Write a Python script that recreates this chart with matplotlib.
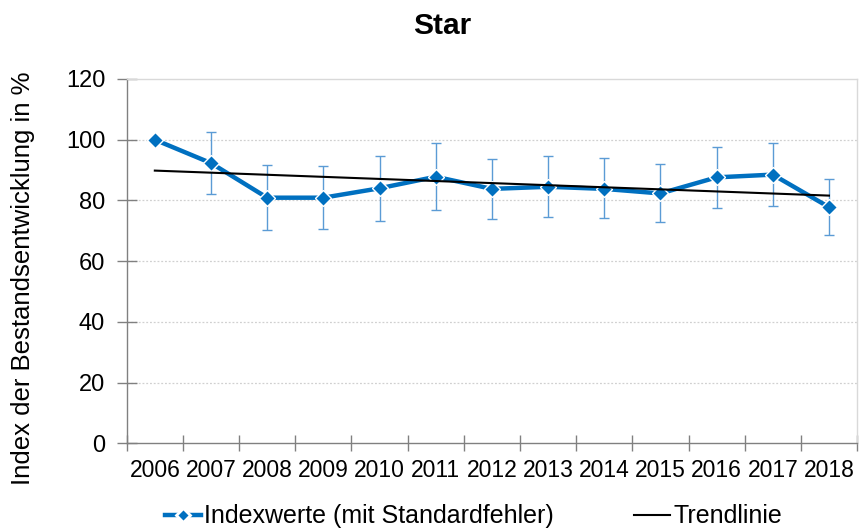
import matplotlib
matplotlib.use("Agg")
import matplotlib.pyplot as plt
import numpy as np
from matplotlib.lines import Line2D

plt.rcParams['font.family'] = ['Liberation Sans', 'DejaVu Sans']

years = ['2006', '2007', '2008', '2009', '2010', '2011', '2012',
         '2013', '2014', '2015', '2016', '2017', '2018']
index_values = [100.0, 92.3, 80.9, 80.9, 84.0, 87.8, 83.8, 84.5, 83.8, 82.3, 87.6, 88.5, 77.8]
se_upper = [np.nan, 102.6, 91.6, 91.2, 94.7, 98.8, 93.7, 94.6, 93.9, 92.0, 97.6, 98.8, 87.2]
se_lower = [np.nan, 82.0, 70.1, 70.5, 73.1, 76.9, 73.8, 74.5, 74.2, 73.0, 77.4, 78.2, 68.7]
y_ticks = [0, 20, 40, 60, 80, 100, 120]

title = 'Star'
y_label = 'Index der Bestandsentwicklung in %'
legend_labels = ['Indexwerte (mit Standardfehler)', 'Trendlinie']

x = np.arange(len(years))
vals = np.array(index_values)
up = np.array(se_upper)
lo = np.array(se_lower)

fig = plt.figure(figsize=(8.61, 5.28), dpi=100)
ax = fig.add_axes([0.1472, 0.1604, 0.9954 - 0.1472, 0.8504 - 0.1604])

blue = '#0070C0'
err_blue = '#5B9BD5'

# error bars
yerr = np.vstack([vals - lo, up - vals])
ax.errorbar(x, vals, yerr=yerr, fmt='none', ecolor=err_blue, elinewidth=1.0,
            capsize=3.5, capthick=1.0, zorder=3)

# main line
ax.plot(x, vals, color=blue, lw=3.2, marker='D', markersize=8,
        markerfacecolor=blue, markeredgecolor='white', markeredgewidth=1.0,
        zorder=4, solid_capstyle='round')

# trend line (linear fit)
coef = np.polyfit(x, vals, 1)
ax.plot(x, np.polyval(coef, x), color='black', lw=1.5, zorder=5)

ax.set_xlim(-0.5, len(years) - 0.5)
ax.set_ylim(0, 120)
ax.set_yticks(y_ticks)
ax.set_yticklabels([str(t) for t in y_ticks], fontsize=17)
ax.set_xticks(x)
ax.set_xticklabels(years, fontsize=16.5)
ax.tick_params(axis='x', length=0, pad=11)
ax.set_xticks(np.arange(-0.5, len(years)), minor=True)
ax.tick_params(axis='x', which='minor', direction='inout', length=11, color='#808080', width=1)
ax.tick_params(axis='y', direction='inout', length=15, color='#808080', width=1, pad=8)

for yt in y_ticks[1:-1]:
    ax.axhline(yt, color='#D0D0D0', lw=0.9, ls=(0, (1.5, 1.5)), zorder=1)

ax.spines['left'].set_color('#808080')
ax.spines['bottom'].set_color('#808080')
ax.spines['top'].set_color('#D9D9D9')
ax.spines['right'].set_color('#D9D9D9')
for s in ax.spines.values():
    s.set_linewidth(1.0)

fig.text(0.514, 0.951, title, fontsize=21.5, fontweight='bold', ha='center', va='center')
fig.text(0.027, 0.473, y_label, fontsize=18.5, rotation=90, ha='center', va='center')

handles = [Line2D([], [], color=blue, lw=3.2, marker='D', markersize=7,
                  markerfacecolor=blue, markeredgecolor='white', markeredgewidth=2.0),
           Line2D([], [], color='black', lw=1.5)]
fig.legend(handles, legend_labels, loc='center', bbox_to_anchor=(0.55, 0.022),
           ncol=2, frameon=False, fontsize=18, handlelength=1.45,
           handletextpad=0.12, columnspacing=3.2)

fig.savefig('out.png', dpi=100)
